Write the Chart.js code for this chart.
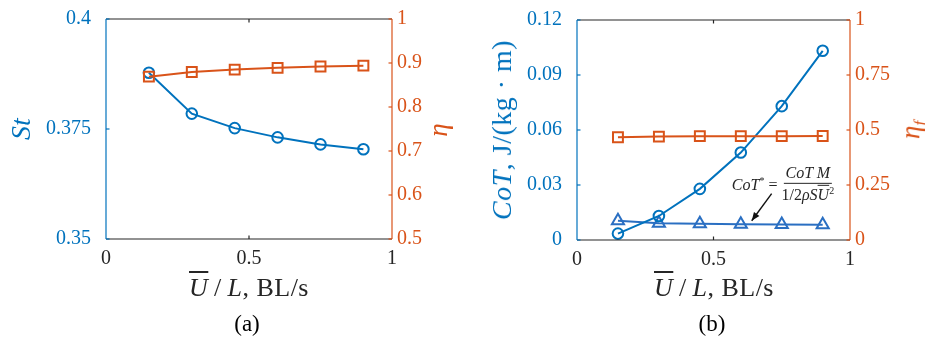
<!DOCTYPE html>
<html><head><meta charset="utf-8">
<script src="https://cdn.jsdelivr.net/npm/chart.js@4"></script>
<style>
body{margin:0;width:925px;height:338px;background:#fff;position:relative;overflow:hidden;font-family:"Liberation Serif",serif;color:#262626;}
.box{position:absolute;top:0;height:338px;}
.lbl{position:absolute;white-space:nowrap;transform:translate(-50%,-50%);line-height:1;}
.rot{transform:translate(-50%,-50%) rotate(-90deg);}
i{font-style:italic}
.ov{text-decoration:overline;}
.blue{color:#0072BD}.orange{color:#D95319}
.xt{font-size:26px;letter-spacing:0.5px}
</style></head>
<body>
<div class="box" style="left:0;width:460px"><canvas id="c1" width="460" height="338"></canvas></div>
<div class="box" style="left:460px;width:465px"><canvas id="c2" width="465" height="338"></canvas></div>

<div class="lbl rot blue" style="left:21px;top:129px;font-size:28px"><i>St</i></div>
<div class="lbl rot orange" style="left:438px;top:130px;font-size:27px"><i>η</i></div>
<div class="lbl xt" style="left:249px;top:288px"><span class="ov"><i>U</i></span>&thinsp;/&thinsp;<i>L</i>, BL/s</div>
<div class="lbl" style="left:247px;top:323px;font-size:23px;color:#000">(a)</div>

<div class="lbl rot blue" style="left:502px;top:130px;font-size:28px;letter-spacing:0.5px"><i>CoT</i>, J/(kg · m)</div>
<div class="lbl rot orange" style="left:913px;top:130px;font-size:27px"><i>η<sub style="font-size:17px">f</sub></i></div>
<div class="lbl xt" style="left:714px;top:288px"><span class="ov"><i>U</i></span>&thinsp;/&thinsp;<i>L</i>, BL/s</div>
<div class="lbl" style="left:712px;top:323px;font-size:23px;color:#000">(b)</div>

<div class="lbl" style="left:783px;top:184px;font-size:16px;display:flex;align-items:center">
<span><i>CoT</i><sup style="font-size:10px">*</sup>&nbsp;=&nbsp;</span>
<span style="display:inline-flex;flex-direction:column;align-items:center">
<span style="border-bottom:1px solid #262626;padding:0 2px 2px"><i>CoT M</i></span>
<span style="padding-top:2px">1/2<i>ρS</i><span class="ov"><i>U</i></span><sup style="font-size:10px">2</sup></span>
</span>
</div>

<script>
// ---- data ----
const speeds = [0.15, 0.30, 0.45, 0.60, 0.75, 0.90];
const strouhal = [0.3878, 0.3785, 0.3752, 0.3731, 0.3715, 0.3704];
const eta = [0.869, 0.8795, 0.885, 0.889, 0.892, 0.894];
const cot = [0.0035, 0.0131, 0.0279, 0.0477, 0.0730, 0.1032];
const cotStar = [0.0105, 0.0092, 0.0088, 0.0086, 0.0085, 0.0083];
const etaF = [0.467, 0.470, 0.472, 0.472, 0.472, 0.473];
const xTicks = [0, 0.5, 1];
const stTicks = [0.35, 0.375, 0.4];
const etaTicks = [0.5, 0.6, 0.7, 0.8, 0.9, 1];
const cotTicks = [0, 0.03, 0.06, 0.09, 0.12];
const etaFTicks = [0, 0.25, 0.5, 0.75, 1];
const arrowFrom = {x: 0.713, y: 0.0253};
const arrowTo = {x: 0.640, y: 0.0105};

const BLUE = '#0072BD', ORANGE = '#D95319', TRI = '#2a6fc2', DARK = '#262626';
const FONT = {family: '"Liberation Serif", serif', size: 20};

const pts = (ys) => speeds.map((x, i) => ({x, y: ys[i]}));
const fmt = (v) => String(+(+v).toFixed(4));
const setTicks = (arr) => (s) => { s.ticks = arr.map(v => ({value: v})); };

const frame = {
  id: 'frame',
  afterDraw(chart) {
    const {ctx, chartArea: a, scales} = chart;
    const ln = (x1, y1, x2, y2, c) => { ctx.strokeStyle = c; ctx.beginPath(); ctx.moveTo(x1, y1); ctx.lineTo(x2, y2); ctx.stroke(); };
    ctx.save();
    ctx.lineWidth = 1.2;
    ln(a.left, a.top, a.right, a.top, DARK);
    ln(a.left, a.bottom, a.right, a.bottom, DARK);
    const t = 3.5;
    scales.x.ticks.forEach(tk => {
      const px = scales.x.getPixelForValue(tk.value);
      if (px > a.left + 1 && px < a.right - 1) {
        ln(px, a.bottom, px, a.bottom - t, DARK);
        ln(px, a.top, px, a.top + t, DARK);
      }
    });
    scales.y.ticks.forEach(tk => {
      const py = scales.y.getPixelForValue(tk.value);
      ln(a.left, py, a.left + t, py, BLUE);
    });
    scales.y1.ticks.forEach(tk => {
      const py = scales.y1.getPixelForValue(tk.value);
      ln(a.right, py, a.right - t, py, ORANGE);
    });
    ln(a.left, a.top, a.left, a.bottom, BLUE);
    ln(a.right, a.top, a.right, a.bottom, ORANGE);
    const arrow = chart.options.plugins.frame && chart.options.plugins.frame.arrow;
    if (arrow) {
      const x1 = scales.x.getPixelForValue(arrow.from.x), y1 = scales.y.getPixelForValue(arrow.from.y);
      const x2 = scales.x.getPixelForValue(arrow.to.x), y2 = scales.y.getPixelForValue(arrow.to.y);
      ctx.lineWidth = 1.4;
      ln(x1, y1, x2, y2, '#111');
      const ang = Math.atan2(y2 - y1, x2 - x1), L = 9, W = 0.38;
      ctx.fillStyle = '#111';
      ctx.beginPath();
      ctx.moveTo(x2, y2);
      ctx.lineTo(x2 - L * Math.cos(ang - W), y2 - L * Math.sin(ang - W));
      ctx.lineTo(x2 - L * Math.cos(ang + W), y2 - L * Math.sin(ang + W));
      ctx.closePath(); ctx.fill();
    }
    ctx.restore();
  }
};

function ds(data, color, style, order) {
  return {
    data, borderColor: color, pointBorderColor: color, pointBackgroundColor: 'rgba(0,0,0,0)',
    pointStyle: style, pointRadius: style === 'circle' ? 5.3 : 7, pointBorderWidth: 2,
    borderWidth: 2, tension: 0, order
  };
}

const fitV = (w) => (s) => { s.width = w; s.paddingTop = 0; s.paddingBottom = 0; };

function makeChart(id, dsets, yTicks, yMin, yMax, y1Ticks, y1Min, yW, y1W, xH, top, arrow) {
  return new Chart(document.getElementById(id), {
    type: 'line',
    data: {datasets: dsets},
    options: {
      responsive: false, animation: false, events: [],
      layout: {padding: {top: top, left: 0, right: 0, bottom: 0}},
      plugins: {legend: {display: false}, tooltip: {enabled: false}, frame: {arrow}},
      scales: {
        x: {type: 'linear', min: 0, max: 1, afterBuildTicks: setTicks(xTicks),
            afterFit: s => { s.height = xH; s.paddingLeft = 0; s.paddingRight = 0; },
            grid: {display: false, drawTicks: false}, border: {display: false},
            ticks: {color: DARK, font: FONT, padding: 8, callback: fmt, maxRotation: 0}},
        y: {type: 'linear', position: 'left', min: yMin, max: yMax, afterBuildTicks: setTicks(yTicks),
            afterFit: fitV(yW),
            grid: {display: false, drawTicks: false}, border: {display: false},
            ticks: {color: BLUE, font: FONT, padding: 15, callback: fmt}},
        y1: {type: 'linear', position: 'right', min: y1Min, max: 1, afterBuildTicks: setTicks(y1Ticks),
            afterFit: fitV(y1W),
            grid: {display: false, drawTicks: false}, border: {display: false},
            ticks: {color: ORANGE, font: FONT, padding: 5, callback: fmt}}
      }
    },
    plugins: [frame]
  });
}

makeChart('c1', [
  Object.assign(ds(pts(strouhal), BLUE, 'circle', 1), {yAxisID: 'y'}),
  Object.assign(ds(pts(eta), ORANGE, 'rect', 0), {yAxisID: 'y1'})
], stTicks, 0.35, 0.4, etaTicks, 0.5, 106, 68, 99, 19, null);

makeChart('c2', [
  Object.assign(ds(pts(cot), BLUE, 'circle', 1), {yAxisID: 'y'}),
  Object.assign(ds(pts(cotStar), TRI, 'triangle', 2), {yAxisID: 'y'}),
  Object.assign(ds(pts(etaF), ORANGE, 'rect', 0), {yAxisID: 'y1'})
], cotTicks, 0, 0.12, etaFTicks, 0, 117, 75, 98, 20, {from: arrowFrom, to: arrowTo});
</script>
</body></html>
